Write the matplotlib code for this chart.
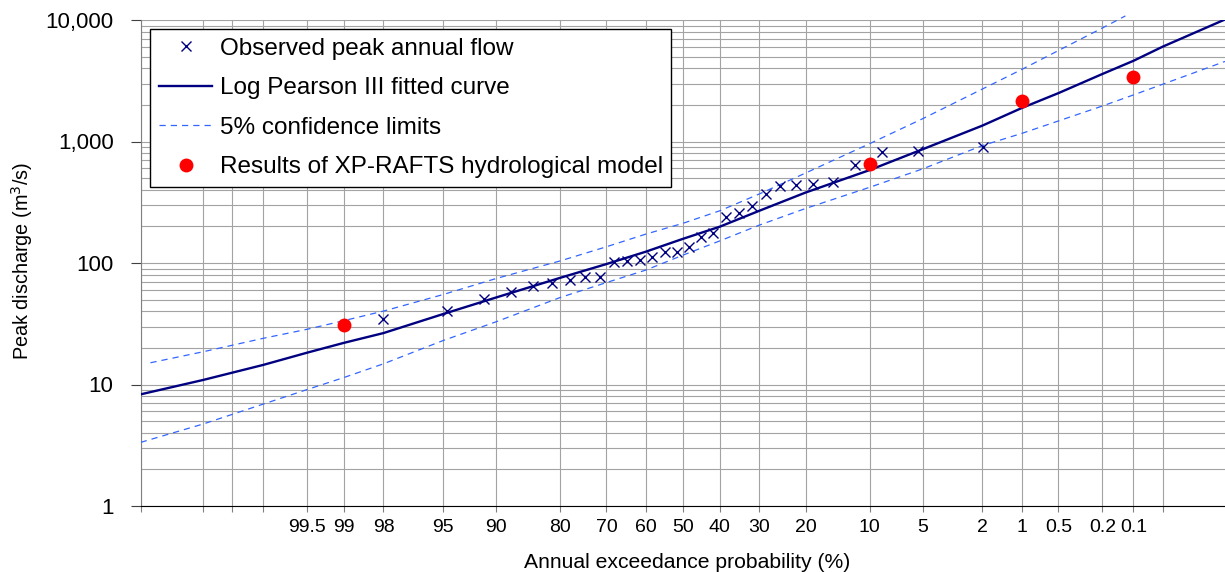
import math
import numpy as np
import matplotlib
matplotlib.use('Agg')
import matplotlib.pyplot as plt
from matplotlib.ticker import LogLocator, NullFormatter

plt.rcParams['font.family'] = ['Liberation Sans', 'DejaVu Sans']

# observed annual peaks (AEP %, m3/s)
obs_aep = [1.99, 5.30, 8.61, 11.92, 15.23, 18.54, 21.85, 25.17, 28.48, 31.79,
           35.10, 38.41, 41.72, 45.03, 48.34, 51.66, 54.97, 58.28, 61.59, 64.90,
           68.21, 71.52, 74.83, 78.15, 81.46, 84.77, 88.08, 91.39, 94.70, 98.01]
obs_q = [902, 836, 820, 641, 462, 450, 441, 430, 367, 296,
         257, 238, 175, 163, 135, 124, 123, 111, 106, 104,
         102.5, 77, 76, 73, 69, 65, 58, 51, 40.5, 34.4]

# Log Pearson III fit
lp3_aep = [99.99, 99.95, 99.8, 99.5, 99, 98, 95, 90, 80, 70, 60, 50,
           40, 30, 20, 10, 5, 2, 1, 0.5, 0.2, 0.1, 0.05, 0.01]
lp3_q = [8.3, 10.9, 14.5, 18.3, 22, 26.5, 38.0, 52.0, 75.5, 98, 124, 158,
         199, 269, 380, 582, 863, 1350, 1890, 2500, 3596, 4610, 6025, 10100]

# 5% confidence limits
up_aep = [99.987, 99.95, 99.8, 99.5, 99, 98, 95, 90, 80, 70, 60, 50,
          40, 30, 20, 10, 5, 2, 1, 0.5, 0.2, 0.12]
up_q = [15.1, 18.6, 24, 28.5, 33.5, 40.2, 55, 74.5, 104, 136, 173, 212,
        269, 370, 550, 960, 1540, 2700, 3925, 5600, 8600, 10800]
lo_aep = [99.99, 99.95, 99.8, 99.5, 99, 98, 95, 90, 80, 70, 60, 50,
          40, 30, 20, 10, 5, 2, 1, 0.2, 0.1, 0.01]
lo_q = [3.34, 4.73, 6.9, 9.1, 11.4, 14.8, 23, 32.8, 52, 69, 87.5, 116,
        152, 205, 281, 420, 595, 925, 1167, 1960, 2415, 4560]

# XP-RAFTS results
xp_aep = [99, 10, 1, 0.1]
xp_q = [31, 649, 2154, 3375]

xticks = [99.99, 99.95, 99.9, 99.8, 99.5, 99, 98, 95, 90, 80, 70, 60, 50,
          40, 30, 20, 10, 5, 2, 1, 0.5, 0.2, 0.1, 0.05]
xlabels = ['', '', '', '', '99.5', '99', '98', '95', '90', '80', '70', '60', '50',
           '40', '30', '20', '10', '5', '2', '1', '0.5', '0.2', '0.1', '']
yticks = [1, 10, 100, 1000, 10000]
ylabels = ['1', '10', '100', '1,000', '10,000']

erf = np.vectorize(math.erf, otypes=[float])


def cdf(z):
    return 0.5 * (1 + erf(np.asarray(z, dtype=float) / math.sqrt(2)))


def aep_to_z(aep):
    # standard normal variate of the exceedance probability (bisection on erf)
    p = np.clip(np.asarray(aep, dtype=float) / 100, 1e-12, 1 - 1e-12)
    lo = np.full(p.shape, -10.0)
    hi = np.full(p.shape, 10.0)
    for _ in range(50):
        mid = (lo + hi) / 2
        below = cdf(mid) < p
        lo = np.where(below, mid, lo)
        hi = np.where(below, hi, mid)
    return (lo + hi) / 2


def z_to_aep(z):
    return 100 * cdf(z)


W, H = 1225, 572
fig = plt.figure(figsize=(W / 100, H / 100), dpi=100)
ax = fig.add_axes([140.7 / W, (H - 506) / H, (W - 140.7) / W, (506 - 20) / H])

ax.set_xscale('function', functions=(aep_to_z, z_to_aep))
ax.set_yscale('log')

grid_c = '#a3a3a3'
ax.plot(up_aep, up_q, color='#3366ff', lw=0.9, dashes=(5, 4), clip_on=False, zorder=3)
ax.plot(lo_aep, lo_q, color='#3366ff', lw=0.9, dashes=(5, 4), zorder=3,
        label='5% confidence limits')
ax.plot(lp3_aep, lp3_q, color='#000080', lw=1.7, zorder=4, label='Log Pearson III fitted curve')
ax.plot(obs_aep, obs_q, ls='none', marker='x', ms=6.5, mew=1, color='#000080', zorder=5,
        label='Observed peak annual flow')
ax.plot(xp_aep, xp_q, ls='none', marker='o', ms=9, color='#ff0000', mec='#ff0000', zorder=6,
        label='Results of XP-RAFTS hydrological model')

# probability axis runs from 99.99 % on the left to 0.01 % on the right
ax.set_xlim(99.99, 0.01)
ax.set_ylim(1, 10000)

ax.set_xticks(xticks)
ax.set_xticklabels(xlabels)
ax.set_yticks(yticks)
ax.set_yticklabels(ylabels)
ax.yaxis.set_minor_locator(LogLocator(base=10, subs=range(2, 10)))
ax.yaxis.set_minor_formatter(NullFormatter())

ax.grid(True, which='major', axis='x', color=grid_c, lw=0.8)
ax.grid(True, which='both', axis='y', color=grid_c, lw=0.8)
ax.set_axisbelow(True)

ax.tick_params(axis='y', which='major', length=7, width=0.8, color='#404040', labelsize=16, pad=12.5)
ax.tick_params(axis='y', which='minor', length=0)
ax.tick_params(axis='x', which='major', length=4, width=0.8, color='#808080', labelsize=14, pad=5)

for s in ['top', 'right']:
    ax.spines[s].set_visible(False)
ax.spines['left'].set_color('#808080')
ax.spines['bottom'].set_color('black')

fig.text(687 / W, 1 - 562 / H, 'Annual exceedance probability (%)', fontsize=15.2,
         ha='center', va='center')
fig.text(22 / W, 1 - 261 / H, 'Peak discharge (m$^3$/s)', fontsize=14.3,
         rotation=90, ha='center', va='center')

handles, labels = ax.get_legend_handles_labels()
order = [2, 1, 0, 3]
leg = ax.legend([handles[i] for i in order], [labels[i] for i in order],
                loc='upper left', bbox_to_anchor=(0.0086, 0.9815), borderaxespad=0,
                fontsize=17.5, frameon=True, fancybox=False, framealpha=1,
                edgecolor='black', handlelength=2.2, handletextpad=0.3,
                labelspacing=0.72, borderpad=0.36)
leg.get_frame().set_linewidth(1)

fig.savefig('out.png', dpi=100)
